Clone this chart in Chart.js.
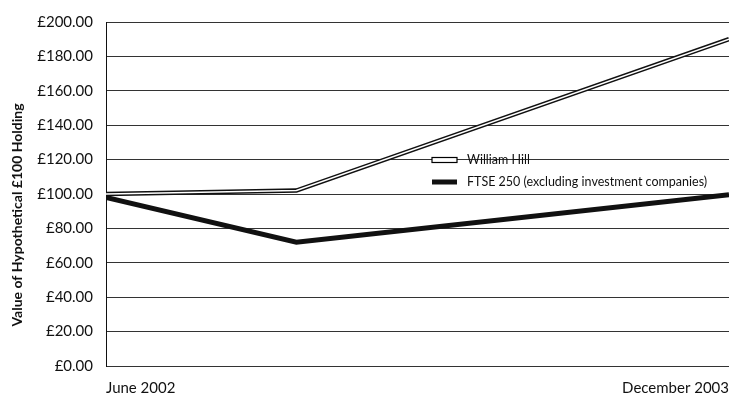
<!DOCTYPE html>
<html>
<head>
<meta charset="utf-8">
<script src="https://cdn.jsdelivr.net/npm/chart.js@4/dist/chart.umd.min.js"></script>
<style>
  html, body { margin: 0; padding: 0; background: #fff; }
  #wrap { width: 729px; height: 400px; position: relative; }
</style>
</head>
<body>
<div id="wrap"><canvas id="chart"></canvas></div>
<script>
// months since June 2002
const months = [0, 5.5, 18];
const williamHill = [100, 102, 190];
const ftse250 = [98, 72, 99.5];
const xLabels = { 0: "June 2002", 18: "December 2003" };
const seriesNames = ["William Hill", "FTSE 250 (excluding investment companies)"];
const yTitle = "Value of Hypothetical £100 Holding";

const FONT = "Lato";

function toPoints(values) {
  return values.map((v, i) => ({ x: months[i], y: v }));
}

// legend drawn inside the plot area, plus the y title (sits a bit low in the original)
const extras = {
  id: "extras",
  afterDraw(chart) {
    const ctx = chart.ctx;
    const area = chart.chartArea;
    const x0 = area.left + 326;
    const rows = [area.top + 138, area.top + 160];
    ctx.save();
    ctx.fillStyle = "#fff";
    ctx.strokeStyle = "#000";
    ctx.lineWidth = 1.2;
    ctx.fillRect(x0, rows[0] - 2.5, 25, 5);
    ctx.strokeRect(x0, rows[0] - 2.5, 25, 5);
    ctx.fillStyle = "#111";
    ctx.fillRect(x0, rows[1] - 2.5, 25, 5);
    ctx.font = "12.5px " + FONT;
    ctx.textBaseline = "middle";
    ctx.fillText(seriesNames[0], x0 + 35, rows[0]);
    ctx.fillText(seriesNames[1], x0 + 35, rows[1]);

    ctx.translate(17, 215);
    ctx.rotate(-Math.PI / 2);
    ctx.textAlign = "center";
    ctx.font = "bold 14px " + FONT;
    ctx.fillText(yTitle, 0, 0);
    ctx.restore();
  }
};

new Chart(document.getElementById("chart"), {
  type: "line",
  data: {
    datasets: [
      {
        label: seriesNames[0],
        data: toPoints(williamHill),
        borderColor: "#fff",
        borderWidth: 1.5,
        pointRadius: 0,
        tension: 0,
      },
      {
        label: seriesNames[0] + " outline",
        data: toPoints(williamHill),
        borderColor: "#111",
        borderWidth: 4.5,
        pointRadius: 0,
        tension: 0,
      },
      {
        label: seriesNames[1],
        data: toPoints(ftse250),
        borderColor: "#111",
        borderWidth: 5,
        pointRadius: 0,
        tension: 0,
      },
    ],
  },
  options: {
    responsive: true,
    maintainAspectRatio: false,
    animation: false,
    layout: { padding: { top: 12, right: 0, left: 0, bottom: 0 } },
    plugins: {
      legend: { display: false },
      tooltip: { enabled: false },
    },
    scales: {
      x: {
        type: "linear",
        min: 0,
        max: 18,
        afterBuildTicks: (scale) => {
          scale.ticks = [{ value: 0 }, { value: 18 }];
        },
        afterFit: (scale) => {
          scale.height = 34;
          scale.paddingLeft = 0;
          scale.paddingRight = 0;
        },
        grid: { display: false },
        border: { display: false },
        ticks: {
          align: "inner",
          maxRotation: 0,
          padding: 5,
          color: "#111",
          font: { family: FONT, size: 15 },
          callback: (v) => xLabels[v] || "",
        },
      },
      y: {
        min: 0,
        max: 200,
        afterFit: (scale) => {
          scale.width = 106;
        },
        grid: { color: "#333", lineWidth: 1, drawTicks: false },
        border: { display: true, color: "#111", width: 1 },
        ticks: {
          stepSize: 20,
          padding: 13,
          color: "#111",
          font: { family: FONT, size: 15 },
          callback: (v) => "£" + v.toFixed(2),
        },
      },
    },
  },
  plugins: [extras],
});
</script>
</body>
</html>
